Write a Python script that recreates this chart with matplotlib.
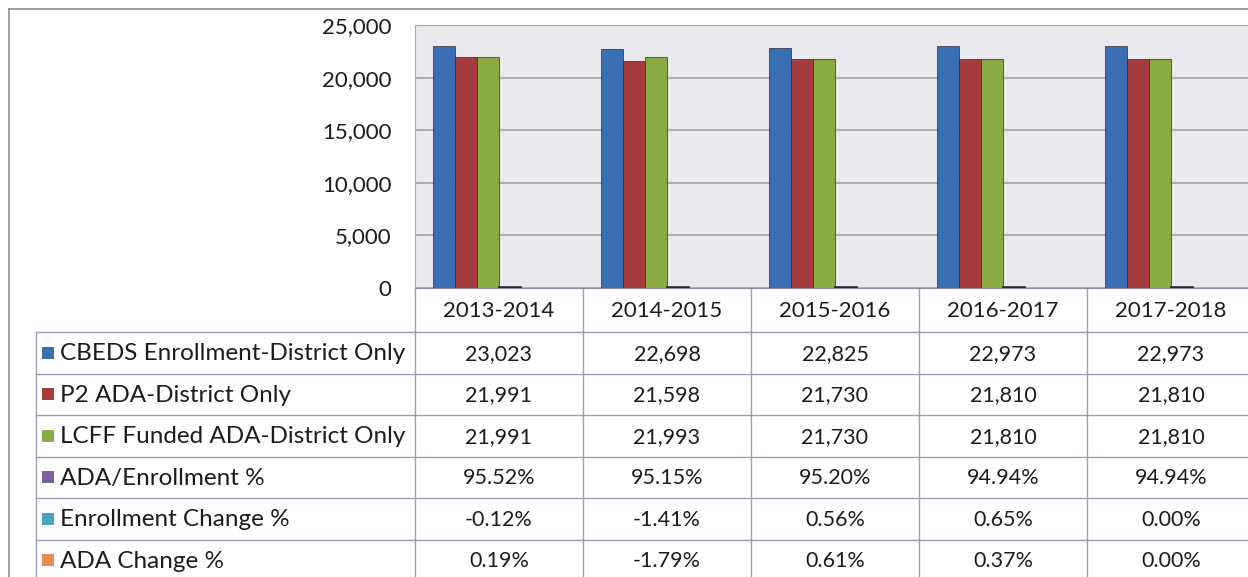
import matplotlib.pyplot as plt
import numpy as np

# enrollment / ADA chart with the excel-style data table underneath

years = ['2013-2014', '2014-2015', '2015-2016', '2016-2017', '2017-2018']
series_names = ['CBEDS Enrollment-District Only', 'P2 ADA-District Only',
                'LCFF Funded ADA-District Only', 'ADA/Enrollment %',
                'Enrollment Change %', 'ADA Change %']
cbeds = [23023, 22698, 22825, 22973, 22973]
p2_ada = [21991, 21598, 21730, 21810, 21810]
lcff_ada = [21991, 21993, 21730, 21810, 21810]
ada_enroll_pct = [95.52, 95.15, 95.20, 94.94, 94.94]
enroll_change_pct = [-0.12, -1.41, 0.56, 0.65, 0.00]
ada_change_pct = [0.19, -1.79, 0.61, 0.37, 0.00]

all_series = [cbeds, p2_ada, lcff_ada, ada_enroll_pct, enroll_change_pct, ada_change_pct]
is_pct = [False, False, False, True, True, True]
colors = ['#3a6fb4', '#a63b3b', '#8bab45', '#7a62a0', '#4aa3c0', '#e98a4f']
edge_w = [0.5, 0.5, 0.5, 1.2, 0, 0]  # purple one is tiny, outline it so it shows like the excel render

plt.rcParams['font.family'] = ['Lato', 'DejaVu Sans']
txt_c = '#1c1c1c'

W, H = 1248, 577
fig = plt.figure(figsize=(W / 100, H / 100), dpi=100)

def px(x0, y0, x1, y1):
    # pixel box (top-left origin) -> figure fraction rect
    return [x0 / W, 1 - y1 / H, (x1 - x0) / W, (y1 - y0) / H]

# overlay axes in pixel coords for frame + table
lay = fig.add_axes([0, 0, 1, 1])
lay.set_xlim(0, W)
lay.set_ylim(H, 0)
lay.axis('off')

frame_c = '#8c8a9c'
lay.plot([9, W], [9, 9], color=frame_c, lw=1.2)
lay.plot([9, 9], [9, H], color=frame_c, lw=1.2)

# bar chart
plot_l, plot_r, plot_t, plot_b = 415, 1255, 25, 288
ax = fig.add_axes(px(plot_l, plot_t, plot_r, plot_b))
ax.set_facecolor('#eaeaee')
n = len(years)
x = np.arange(n)
w = 0.131
for k, (vals, c) in enumerate(zip(all_series, colors)):
    ax.bar(x + (k - 2.5) * w, vals, width=w, color=c, edgecolor='#2a2a3a',
           linewidth=edge_w[k], zorder=3)
ax.set_xlim(-0.5, n - 0.5)
ax.set_ylim(0, 25000)
ax.set_yticks(np.arange(0, 25001, 5000))
ax.yaxis.grid(True, color='#9c9aa6', lw=1.1, zorder=0)
ax.set_xticks([])
ax.tick_params(axis='y', length=0, pad=17, labelsize=16, colors=txt_c)
ax.set_yticklabels([f'{v:,}' for v in range(0, 25001, 5000)])
for s in ['top', 'right', 'left']:
    ax.spines[s].set_color('#a8a6b4')
ax.spines['bottom'].set_color('#8c8a9c')

# data table
line_c = '#a29cbc'
col_w = (plot_r - plot_l) / n
col_edges = [plot_l + i * col_w for i in range(n + 1)]
row_edges = [332, 373.5, 415, 456.5, 498, 539.5, 581]
tab_left = 36

for xe in col_edges:
    lay.plot([xe, xe], [plot_b, H], color=line_c, lw=1)
lay.plot([tab_left, tab_left], [row_edges[0], H], color=line_c, lw=1)
for ye in row_edges[:-1]:
    lay.plot([tab_left, W], [ye, ye], color=line_c, lw=1)

for i, yr in enumerate(years):
    lay.text((col_edges[i] + col_edges[i + 1]) / 2, (plot_b + row_edges[0]) / 2 + 1, yr,
             ha='center', va='center', fontsize=16, color=txt_c)

for r, (name, vals, pct, c) in enumerate(zip(series_names, all_series, is_pct, colors)):
    yc = (row_edges[r] + row_edges[r + 1]) / 2
    lay.add_patch(plt.Rectangle((42, yc - 6), 12, 12, facecolor=c, edgecolor='none'))
    lay.text(60, yc + 1, name, ha='left', va='center', fontsize=17.5, color=txt_c)
    for i, v in enumerate(vals):
        s = f'{v:.2f}%' if pct else f'{v:,}'
        lay.text((col_edges[i] + col_edges[i + 1]) / 2, yc + 1, s,
                 ha='center', va='center', fontsize=15.5, color=txt_c)

plt.savefig('out.png', dpi=100)
